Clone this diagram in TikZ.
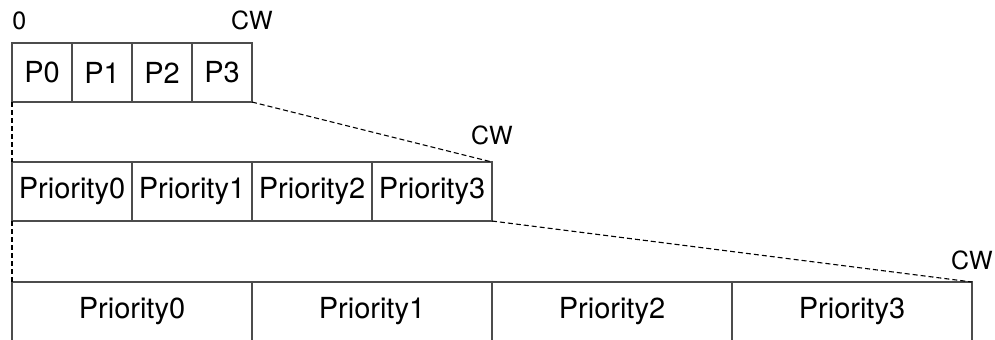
\documentclass[tikz,border=0pt]{standalone}
\usepackage{fontspec}
\setmainfont{TeX Gyre Heros}
\usetikzlibrary{positioning}

\begin{document}
\begin{tikzpicture}[
    x=0.5pt, y=-0.5pt,
    slot/.style={draw=black!70, line width=0.6pt,
                 minimum height=29.5pt, inner sep=0pt, outer sep=0pt,
                 font=\fontsize{14.5}{16}\selectfont},
    slotA/.style={slot, minimum width=30pt},
    slotB/.style={slot, minimum width=60pt},
    slotC/.style={slot, minimum width=120pt},
    marklabel/.style={inner sep=0pt, font=\fontsize{12.5}{14}\selectfont},
    zoomline/.style={line width=0.55pt, dash pattern=on 2.5pt off 1.5pt},
]
\useasboundingbox (0,0) rectangle (995,339);

% ---------------- Row 1: short slots -------------------------------------
\node[slotA, anchor=north west] (p0) at (12,43) {P0};
\node[slotA, right=0pt of p0]   (p1) {P1};
\node[slotA, right=0pt of p1]   (p2) {P2};
\node[slotA, right=0pt of p2]   (p3) {P3};

\node[marklabel, above right=6.5pt and 0pt of p0.north west] (zero) {0};
\node[marklabel, above=6.5pt of p3.north east]               (cw1)  {CW};

% ---------------- Row 2: stretched slots ---------------------------------
\node[slotB, anchor=north west] (q0) at (12,162) {Priority0};
\node[slotB, right=0pt of q0]   (q1) {Priority1};
\node[slotB, right=0pt of q1]   (q2) {Priority2};
\node[slotB, right=0pt of q2]   (q3) {Priority3};

\node[marklabel, above=8.5pt of q3.north east] (cw2) {CW};

% ---------------- Row 3: widest slots (cut by the page edge) -------------
\node[slotC, anchor=north west] (r0) at (12,282) {Priority0};
\node[slotC, right=0pt of r0]   (r1) {Priority1};
\node[slotC, right=0pt of r1]   (r2) {Priority2};
\node[slotC, right=0pt of r2]   (r3) {Priority3};

\node[marklabel, above=6pt of r3.north east] (cw3) {CW};

% Dashed guides from one row to the next
\draw[zoomline] (p0.south west) -- (q0.north west);
\draw[zoomline] (p3.south east) -- (q3.north east);
\draw[zoomline] (q0.south west) -- (r0.north west);
\draw[zoomline] (q3.south east) -- (r3.north east);

\end{tikzpicture}
\end{document}
